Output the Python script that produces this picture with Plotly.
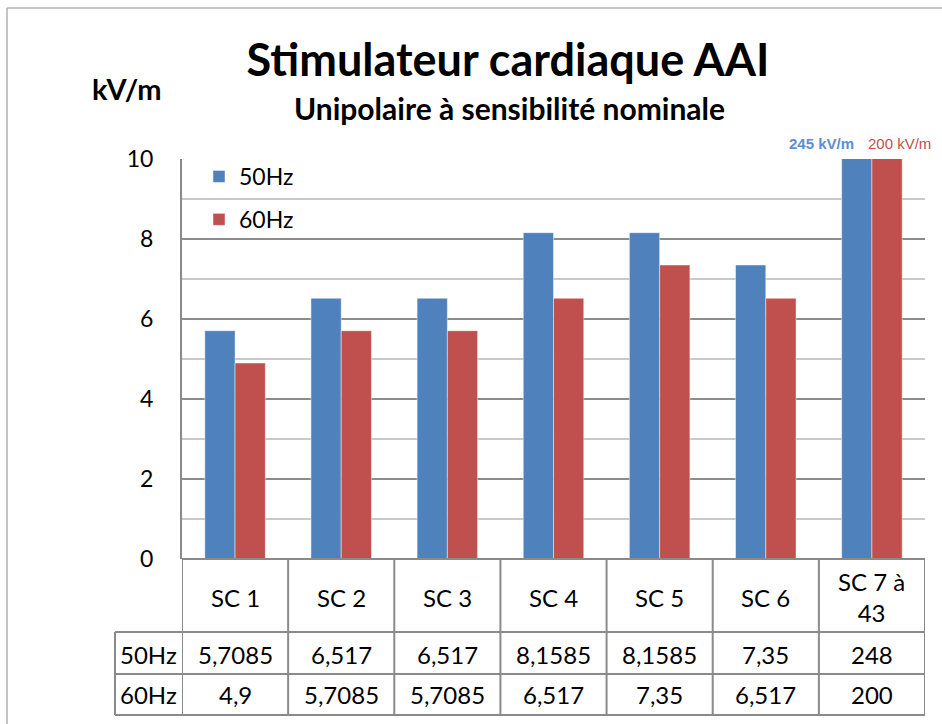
import plotly.graph_objects as go

# --- data -------------------------------------------------------------
categories = ["SC 1", "SC 2", "SC 3", "SC 4", "SC 5", "SC 6", "SC 7 à<br>43"]
series_names = ["50Hz", "60Hz"]
values_50hz = [5.7085, 6.517, 6.517, 8.1585, 8.1585, 7.35, 248]
values_60hz = [4.9, 5.7085, 5.7085, 6.517, 7.35, 6.517, 200]
overflow_labels = ["245 kV/m", "200 kV/m"]
y_ticks = [0, 2, 4, 6, 8, 10]

# --- styling ----------------------------------------------------------
BLUE = "#4F81BD"
RED = "#C0504D"
GRID_MAJOR = "#8C8C8C"
GRID_MINOR = "#C9C9C9"
TABLE_LINE = "#8A8A8A"
FONT = "Lato"

W, H = 942, 724
M_L, M_R, M_T, M_B = 182, 17, 159, 165
PLOT_H = H - M_T - M_B


def py(px_y):
    """Pixel row (from top of page) -> paper y coordinate."""
    return (H - M_B - px_y) / PLOT_H


def px(px_x):
    """Pixel column (from left of page) -> paper x coordinate."""
    return (px_x - M_L) / (W - M_L - M_R)


def fmt(v):
    return f"{v:g}".replace(".", ",")


fig = go.Figure()
series = [values_50hz, values_60hz]
colors = [BLUE, RED]
for name, vals, col in zip(series_names, series, colors):
    fig.add_trace(go.Bar(
        x=list(range(len(categories))),
        y=vals,
        name=name,
        legendgroup=name,
        marker=dict(color=col, line=dict(color="rgba(255,255,255,0.45)", width=1)),
        hoverinfo="x+y",
    ))

# --- data table under the plot ---------------------------------------
shapes = []
n = len(categories)
row_cat_bottom = 632
row_50_bottom = 674
row_60_bottom = 715
line_style = dict(color=TABLE_LINE, width=2)

# horizontal rules
shapes.append(dict(type="line", xref="x", yref="paper", x0=-0.5, x1=n - 0.5,
                   y0=py(559), y1=py(559), line=line_style))
for yy in (row_cat_bottom, row_50_bottom, row_60_bottom):
    shapes.append(dict(type="line", xref="paper", yref="paper", x0=px(115), x1=1,
                       y0=py(yy), y1=py(yy), line=line_style))
# vertical rules at category boundaries
for k in range(n + 1):
    shapes.append(dict(type="line", xref="x", yref="paper", x0=k - 0.5, x1=k - 0.5,
                       y0=py(559), y1=py(row_60_bottom), line=line_style))
# row header column left edge
shapes.append(dict(type="line", xref="paper", yref="paper", x0=px(115), x1=px(115),
                   y0=py(row_cat_bottom), y1=py(row_60_bottom), line=line_style))

# outer chart frame
shapes.append(dict(type="line", xref="paper", yref="paper", x0=px(7), x1=px(W + 5),
                   y0=py(8), y1=py(8), line=dict(color="#B0B0B0", width=1.5)))
shapes.append(dict(type="line", xref="paper", yref="paper", x0=px(7), x1=px(7),
                   y0=py(8), y1=py(H + 5), line=dict(color="#B0B0B0", width=1.5)))

annotations = []
tfont = dict(family=FONT, size=24, color="black")
for i, cat in enumerate(categories):
    annotations.append(dict(xref="x", yref="paper", x=i, y=py(597), text=cat,
                            showarrow=False, font=tfont, xanchor="center", yanchor="middle"))
    annotations.append(dict(xref="x", yref="paper", x=i, y=py(654), text=fmt(values_50hz[i]),
                            showarrow=False, font=tfont, xanchor="center", yanchor="middle"))
    annotations.append(dict(xref="x", yref="paper", x=i, y=py(694), text=fmt(values_60hz[i]),
                            showarrow=False, font=tfont, xanchor="center", yanchor="middle"))
for name, yy in zip(series_names, (654, 694)):
    annotations.append(dict(xref="paper", yref="paper", x=px(148), y=py(yy), text=name,
                            showarrow=False, font=tfont, xanchor="center", yanchor="middle"))

# values of the off-scale bars, printed above the plot
annotations.append(dict(xref="x", yref="paper", x=n - 1, y=py(143), text=f"<b>{overflow_labels[0]}</b>",
                        showarrow=False, xanchor="right", yanchor="middle", xshift=-16,
                        font=dict(family="Liberation Sans", size=15, color="#5B8ED6")))
annotations.append(dict(xref="x", yref="paper", x=n - 1, y=py(143), text=overflow_labels[1],
                        showarrow=False, xanchor="left", yanchor="middle", xshift=-6,
                        font=dict(family="Liberation Sans", size=15, color=RED)))

# subtitle and unit
annotations.append(dict(xref="paper", yref="paper", x=px(509), y=py(108),
                        text="<b>Unipolaire à sensibilité nominale</b>", showarrow=False,
                        xanchor="center", yanchor="middle",
                        font=dict(family=FONT, size=30, color="black")))
annotations.append(dict(xref="paper", yref="paper", x=px(127), y=py(88),
                        text="<b>kV/m</b>", showarrow=False,
                        xanchor="center", yanchor="middle",
                        font=dict(family=FONT, size=29, color="black")))

fig.update_layout(
    width=W, height=H,
    margin=dict(l=M_L, r=M_R, t=M_T, b=M_B, pad=0),
    paper_bgcolor="white", plot_bgcolor="white",
    title=dict(text="<b>Stimulateur cardiaque AAI</b>", xref="paper", x=px(508),
               xanchor="center", yref="container", y=1 - 60 / H, yanchor="middle",
               font=dict(family=FONT, size=45, color="black")),
    font=dict(family=FONT, color="black"),
    barmode="group", bargap=0.43, bargroupgap=0,
    showlegend=True,
    legend=dict(x=px(199), y=py(155), xanchor="left", yanchor="top",
                bgcolor="rgba(0,0,0,0)", font=dict(family=FONT, size=23, color="black"),
                traceorder="grouped", tracegroupgap=10, itemwidth=30),
    xaxis=dict(range=[-0.5, n - 0.5], showticklabels=False, showgrid=False,
               zeroline=False, showline=False, ticks="", fixedrange=True),
    yaxis=dict(range=[0, 10], tickvals=y_ticks, showgrid=True, gridcolor=GRID_MAJOR,
               gridwidth=1.5, zeroline=False, showline=True, linecolor=TABLE_LINE,
               linewidth=2, ticks="", ticklabelstandoff=22,
               tickfont=dict(family=FONT, size=23, color="black"),
               minor=dict(dtick=1, showgrid=True, gridcolor=GRID_MINOR, gridwidth=1.5),
               fixedrange=True),
    shapes=shapes,
    annotations=annotations,
)

fig.write_html("out.html")
